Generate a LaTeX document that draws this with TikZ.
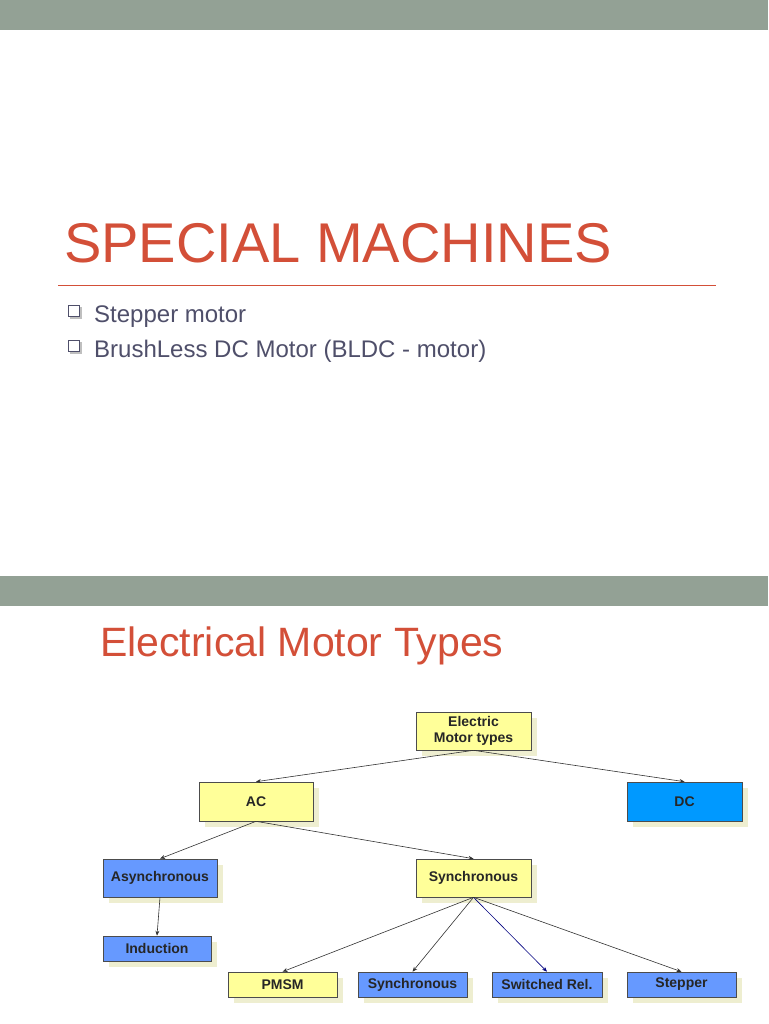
\documentclass[tikz,border=0pt]{standalone}
\usepackage{fontspec}
\setmainfont{Liberation Sans}
\usetikzlibrary{arrows.meta}
\definecolor{band}{HTML}{93A195}
\definecolor{titlec}{HTML}{D34F38}
\definecolor{bodyc}{HTML}{4F4F6A}
\definecolor{yel}{HTML}{FFFF99}
\definecolor{blu}{HTML}{6699FF}
\definecolor{dcb}{HTML}{0099FF}
\definecolor{shad}{HTML}{EEEED0}
\begin{document}
\begin{tikzpicture}[x=1pt,y=-1pt,
  box/.style={draw=black!70,line width=0.6pt,inner sep=0pt,align=center,font=\bfseries\fontsize{14}{16}\selectfont,text=black!85},
  arr/.style={-{Stealth[length=5pt,width=4pt]},line width=0.6pt,black!80}]
\useasboundingbox (0,0) rectangle (768,1024);
\fill[white] (0,0) rectangle (768,1024);
\fill[band] (0,0) rectangle (768,30);
\fill[band] (0,576) rectangle (768,606);
\node[anchor=base west,inner sep=0pt,text=titlec,font=\fontsize{56}{60}\selectfont] (t1) at (64,262) {SPECIAL MACHINES};
\draw[titlec,line width=0.8pt] (58,285) -- (716,285);
\foreach \y/\t [count=\i] in {315/Stepper motor,350/BrushLess DC Motor (BLDC - motor)}{
  \fill[black!25] (70,\y-8) rectangle (82,\y+4);
  \draw[bodyc,fill=white,line width=0.8pt] (68,\y-10) rectangle (79,\y+1);
  \node[anchor=base west,inner sep=0pt,text=bodyc,font=\fontsize{24}{28}\selectfont] (b\i) at (94,\y+7) {\t};
}
\node[anchor=base west,inner sep=0pt,text=titlec,font=\fontsize{41}{46}\selectfont] (t2) at (100,656) {Electrical Motor Types};
\foreach \n/\xa/\ya/\xb/\yb/\c/\t in {
 em/416/712/531/750/yel/{Electric\\Motor types},
 ac/199/782/313/821/yel/AC,
 dc/627/782/742/821/dcb/DC,
 as/103/859/217/897/blu/Asynchronous,
 sy/416/859/531/897/yel/Synchronous,
 in/103/936/211/961/blu/Induction,
 pm/228/972/337/997/yel/PMSM,
 s2/358/972/467/997/blu/Synchronous,
 sr/492/972/602/997/blu/Switched Rel.,
 st/627/972/736/997/blu/Stepper}{
  \fill[shad] (\xa+6,\ya+6) rectangle (\xb+6,\yb+6);
  \node[box,fill=\c,minimum width=\xb-\xa,minimum height=\yb-\ya] (\n) at ({(\xa+\xb)/2},{(\ya+\yb)/2}) {\t};
}
\draw[arr] (em.south) -- (ac.north);
\draw[arr] (em.south) -- (dc.north);
\draw[arr] (ac.south) -- (as.north);
\draw[arr] (ac.south) -- (sy.north);
\draw[arr] (as.south) -- (in.north);
\draw[arr] (sy.south) -- (pm.north);
\draw[arr] (sy.south) -- (s2.north);
\draw[arr,blue!50!black] (sy.south) -- (sr.north);
\draw[arr] (sy.south) -- (st.north);
\end{tikzpicture}
\end{document}
